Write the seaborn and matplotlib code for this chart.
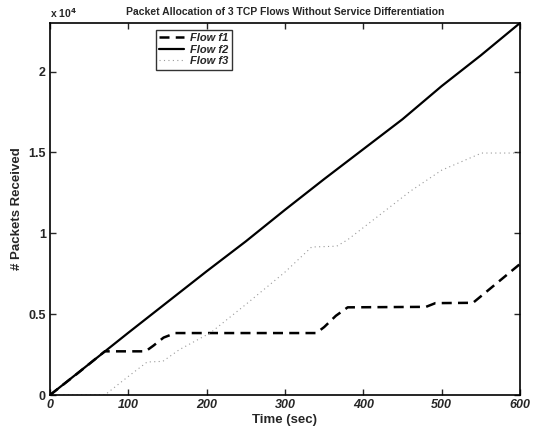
import matplotlib
matplotlib.use("Agg")
import matplotlib.pyplot as plt
import seaborn as sns
import pandas as pd

# ---- data ----
t_f1 = [0, 35, 70, 122, 132, 145, 160, 340, 350, 365, 380, 480, 492, 540, 555, 575, 600]
f1 = [0, 1330, 2700, 2700, 3050, 3550, 3830, 3830, 4200, 4900, 5420, 5450, 5680, 5700, 6300, 7100, 8100]

t_f2 = [0, 50, 100, 150, 200, 250, 300, 350, 400, 450, 500, 550, 600]
f2 = [0, 1920, 3850, 5750, 7650, 9500, 11450, 13350, 15200, 17050, 19100, 21000, 23000]

t_f3 = [0, 70, 100, 124, 144, 165, 205, 250, 300, 334, 366, 380, 420, 460, 500, 551, 600]
f3 = [0, 0, 1150, 2040, 2080, 2800, 3850, 5600, 7600, 9150, 9200, 9600, 11100, 12600, 13900, 14960, 14960]

series_names = ["Flow f1", "Flow f2", "Flow f3"]
x_ticks = [0, 100, 200, 300, 400, 500, 600]
y_ticks = [0, 5000, 10000, 15000, 20000]
y_tick_labels = ["0", "0.5", "1", "1.5", "2"]

df = pd.concat([
    pd.DataFrame({"t": t_f1, "v": f1, "flow": series_names[0]}),
    pd.DataFrame({"t": t_f2, "v": f2, "flow": series_names[1]}),
    pd.DataFrame({"t": t_f3, "v": f3, "flow": series_names[2]}),
])

sns.set_style("ticks")
plt.rcParams["font.family"] = ["Liberation Sans", "DejaVu Sans"]
plt.rcParams["font.weight"] = "bold"

fig = plt.figure(figsize=(5.33, 4.34), dpi=100)
ax = fig.add_axes([50 / 533, 39 / 434, 470 / 533, 372 / 434])

styles = {
    "Flow f1": dict(color="black", lw=1.8, dashes=(4, 2.5)),
    "Flow f2": dict(color="black", lw=1.6),
    "Flow f3": dict(color="#999999", lw=0.8, dashes=(1, 3)),
}
for name in series_names:
    sub = df[df["flow"] == name]
    st = styles[name]
    sns.lineplot(data=sub, x="t", y="v", ax=ax, estimator=None, sort=False,
                 color=st["color"], linewidth=st["lw"], label=name)
    ln = ax.get_lines()[-1]
    if "dashes" in st:
        ln.set_dashes(st["dashes"])

ax.set_xlim(0, 600)
ax.set_ylim(0, 23000)
ax.set_xticks(x_ticks)
ax.set_xticklabels([str(v) for v in x_ticks], fontsize=9, fontweight="bold", fontstyle="italic")
ax.set_yticks(y_ticks)
ax.set_yticklabels(y_tick_labels, fontsize=9, fontweight="bold")
ax.tick_params(direction="in", length=4, width=1, top=True, right=True, pad=3)
for s in ax.spines.values():
    s.set_visible(True)
    s.set_linewidth(1.2)
    s.set_color("black")

ax.set_xlabel("Time (sec)", fontsize=9.5, fontweight="bold", va="center")
ax.xaxis.set_label_coords(0.5, -0.068)
ax.set_ylabel("# Packets Received", fontsize=9.5, fontweight="bold", va="center")
ax.yaxis.set_label_coords(-0.07, 0.5)
ax.set_title("Packet Allocation of 3 TCP Flows Without Service Differentiation",
             fontsize=7.5, fontweight="bold", pad=6)
ax.text(0.0, 1.008, r"x 10$^4$", transform=ax.transAxes, fontsize=7.5,
        fontweight="bold", ha="left", va="bottom")

leg = ax.legend(loc="upper left", bbox_to_anchor=(0.225, 0.982), fontsize=8,
                frameon=True, fancybox=False, edgecolor="black", handlelength=2.2,
                borderpad=0.3, labelspacing=0.15, handletextpad=0.6, borderaxespad=0)
leg.get_frame().set_linewidth(1.0)
for txt in leg.get_texts():
    txt.set_fontweight("bold")
    txt.set_fontstyle("italic")

fig.savefig("out.png", dpi=100)
